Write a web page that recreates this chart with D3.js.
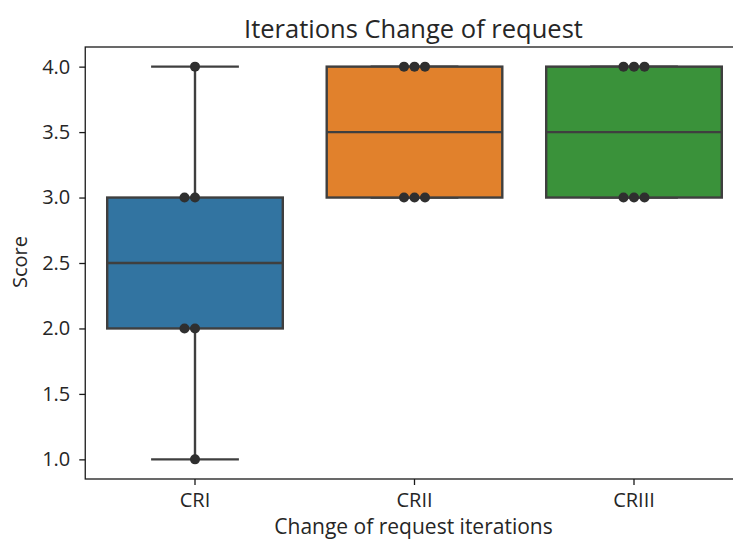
<!DOCTYPE html>
<html>
<head>
<meta charset="utf-8">
<script src="https://cdn.jsdelivr.net/npm/d3@7"></script>
<style>
  html, body { margin: 0; padding: 0; background: #fff; }
  svg { display: block; font-family: "Open Sans", sans-serif; }
</style>
</head>
<body>
<svg id="chart" width="733" height="539"></svg>
<script>
// Categories and raw scores per iteration
const categories = ["CRI", "CRII", "CRIII"];
const scoresCRI = [1, 2, 2, 3, 3, 4];
const scoresCRII = [3, 3, 3, 4, 4, 4];
const scoresCRIII = [3, 3, 3, 4, 4, 4];
const yTicks = [1.0, 1.5, 2.0, 2.5, 3.0, 3.5, 4.0];
const fills = ["#3274a1", "#e1812c", "#3a923a"];

const series = [scoresCRI, scoresCRII, scoresCRIII];

const W = 733, H = 539;
const plot = { left: 85.25, right: 743.75, top: 47, bottom: 479 };
const font = "'Open Sans', sans-serif";

const svg = d3.select("#chart");

const x = d3.scaleBand().domain(categories).range([plot.left, plot.right]).paddingInner(0).paddingOuter(0);
const y = d3.scaleLinear().domain([0.85, 4.15]).range([plot.bottom, plot.top]);

const lineColor = "#3f3f3f";
const lw = 2.4;
const boxW = x.bandwidth() * 0.8;
const capW = boxW / 2;

const g = svg.append("g");

categories.forEach((c, i) => {
  const vals = series[i].slice().sort(d3.ascending);
  const q1 = d3.quantile(vals, 0.25);
  const med = d3.quantile(vals, 0.5);
  const q3 = d3.quantile(vals, 0.75);
  const iqr = q3 - q1;
  const lo = d3.min(vals.filter(v => v >= q1 - 1.5 * iqr));
  const hi = d3.max(vals.filter(v => v <= q3 + 1.5 * iqr));
  const cx = x(c) + x.bandwidth() / 2;

  // whiskers
  g.append("line").attr("x1", cx).attr("x2", cx).attr("y1", y(q3)).attr("y2", y(hi))
    .attr("stroke", lineColor).attr("stroke-width", lw);
  g.append("line").attr("x1", cx).attr("x2", cx).attr("y1", y(q1)).attr("y2", y(lo))
    .attr("stroke", lineColor).attr("stroke-width", lw);
  // caps
  [lo, hi].forEach(v => {
    g.append("line").attr("x1", cx - capW / 2).attr("x2", cx + capW / 2)
      .attr("y1", y(v)).attr("y2", y(v))
      .attr("stroke", lineColor).attr("stroke-width", lw);
  });
  // box
  g.append("rect").attr("x", cx - boxW / 2).attr("width", boxW)
    .attr("y", y(q3)).attr("height", y(q1) - y(q3))
    .attr("fill", fills[i]).attr("stroke", lineColor).attr("stroke-width", lw);
  // median
  g.append("line").attr("x1", cx - boxW / 2).attr("x2", cx + boxW / 2)
    .attr("y1", y(med)).attr("y2", y(med))
    .attr("stroke", lineColor).attr("stroke-width", lw);
});

// swarm points: spread equal values sideways around the category centre
const dotR = 5;
const step = 10.5;
const order = [0, -1, 1, -2, 2, -3, 3];
categories.forEach((c, i) => {
  const cx = x(c) + x.bandwidth() / 2;
  const counts = new Map();
  series[i].forEach(v => {
    const k = counts.get(v) || 0;
    counts.set(v, k + 1);
    g.append("circle").attr("cx", cx + order[k] * step).attr("cy", y(v)).attr("r", dotR)
      .attr("fill", "#2f2f2f");
  });
});

// spines
const spine = "#1a1a1a";
svg.append("rect").attr("x", plot.left).attr("y", plot.top)
  .attr("width", plot.right - plot.left).attr("height", plot.bottom - plot.top)
  .attr("fill", "none").attr("stroke", spine).attr("stroke-width", 1.3);

// axes
const yAxis = svg.append("g").attr("transform", `translate(${plot.left},0)`)
  .call(d3.axisLeft(y).tickValues(yTicks).tickFormat(d3.format(".1f")).tickSize(6).tickPadding(9));
const xAxis = svg.append("g").attr("transform", `translate(0,${plot.bottom})`)
  .call(d3.axisBottom(x).tickSize(6).tickPadding(8));
[yAxis, xAxis].forEach(a => {
  a.select(".domain").remove();
  a.selectAll(".tick line").attr("stroke", spine).attr("stroke-width", 1.3);
  a.selectAll(".tick text").attr("fill", "#262626").style("font-size", "20px")
    .style("font-family", font);
});

// title and axis labels
svg.append("text").attr("x", (plot.left + plot.right) / 2 - 1).attr("y", 38)
  .attr("text-anchor", "middle").attr("fill", "#262626").style("font-size", "25.5px")
  .text("Iterations Change of request");
svg.append("text").attr("x", (plot.left + plot.right) / 2 - 1).attr("y", 534)
  .attr("text-anchor", "middle").attr("fill", "#262626").style("font-size", "21px")
  .text("Change of request iterations");
svg.append("text").attr("transform", `translate(27,${(plot.top + plot.bottom) / 2 - 1}) rotate(-90)`)
  .attr("text-anchor", "middle").attr("fill", "#262626").style("font-size", "20px")
  .text("Score");
</script>
</body>
</html>
